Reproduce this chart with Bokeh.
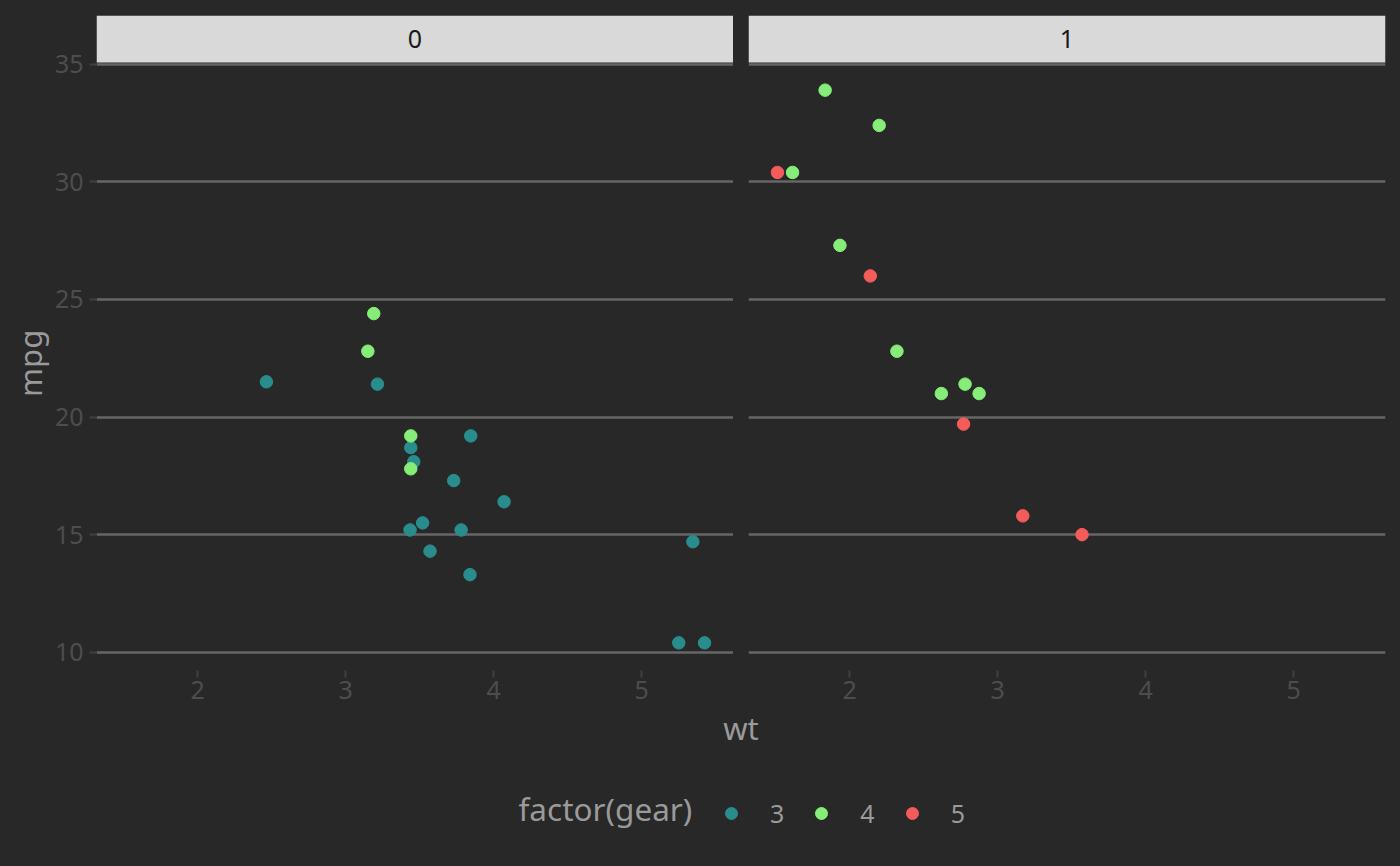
import numpy as np
from bokeh.plotting import figure
from bokeh.models import (ColumnDataSource, Range1d, FixedTicker, Label, Legend,
                          LegendItem, Grid, BoxAnnotation)
from bokeh.layouts import column, row
from bokeh.embed import file_html
from bokeh.resources import INLINE

# ---- data (mtcars) ----
wt = [2.620, 2.875, 2.320, 3.215, 3.440, 3.460, 3.570, 3.190, 3.150, 3.440, 3.440,
      4.070, 3.730, 3.780, 5.250, 5.424, 5.345, 2.200, 1.615, 1.835, 2.465, 3.520,
      3.435, 3.840, 3.845, 1.935, 2.140, 1.513, 3.170, 2.770, 3.570, 2.780]
mpg = [21.0, 21.0, 22.8, 21.4, 18.7, 18.1, 14.3, 24.4, 22.8, 19.2, 17.8,
       16.4, 17.3, 15.2, 10.4, 10.4, 14.7, 32.4, 30.4, 33.9, 21.5, 15.5,
       15.2, 13.3, 19.2, 27.3, 26.0, 30.4, 15.8, 19.7, 15.0, 21.4]
am = [1, 1, 1, 0, 0, 0, 0, 0, 0, 0, 0,
      0, 0, 0, 0, 0, 0, 1, 1, 1, 0, 0,
      0, 0, 0, 1, 1, 1, 1, 1, 1, 1]
gear = [4, 4, 4, 3, 3, 3, 3, 4, 4, 4, 4,
        3, 3, 3, 3, 3, 3, 4, 4, 4, 3, 3,
        3, 3, 3, 4, 5, 5, 5, 5, 5, 4]
gear_levels = ["3", "4", "5"]
gear_colors = ["#2a8d8d", "#86ee78", "#f45b5b"]
facet_levels = [0, 1]
facet_labels = ["0", "1"]
x_ticks = [2, 3, 4, 5]
y_ticks = [10, 15, 20, 25, 30, 35]

# ---- style ----
BG = "#282828"
FONT = "Noto Sans"
GRID = "#666666"
TICKLAB = "#4d4d4d"
TICKCOL = "#404040"
TITLECOL = "#9a9a9a"
STRIPBG = "#d9d9d9"

wt_a = np.array(wt); mpg_a = np.array(mpg); am_a = np.array(am)
gear_a = np.array([str(g) for g in gear])
color_map = dict(zip(gear_levels, gear_colors))
cols = np.array([color_map[g] for g in gear_a])

# layout (pixels)
TOTAL_W, TOTAL_H = 1400, 866
MPG_W = 50
LEFT = 46            # border left of panel 0 (after the mpg column)
PANEL_W = 637
GAP = 15
RIGHT = 15
TOP = 15
STRIP_H = 47
PANEL_H = 608
BOTTOM = 38
FIG_H = TOP + STRIP_H + PANEL_H + BOTTOM
BOT_H = TOTAL_H - FIG_H

x_lo, x_hi = wt_a.min(), wt_a.max()
y_lo, y_hi = mpg_a.min(), mpg_a.max()
dx = (x_hi - x_lo) * 0.05
dy = (y_hi - y_lo) * 0.05
x0, x1 = x_lo - dx, x_hi + dx
y0, y1 = y_lo - dy, y_hi + dy
y_strip_top = y1 + (y1 - y0) * STRIP_H / PANEL_H   # strip sits above the data area
xr = Range1d(x0, x1)
yr = Range1d(y0, y_strip_top)


def style_axis(ax, ticks, standoff):
    ax.ticker = FixedTicker(ticks=ticks)
    ax.axis_line_color = None
    ax.major_tick_out = 7
    ax.major_tick_in = 0
    ax.major_tick_line_color = TICKCOL
    ax.major_tick_line_width = 2
    ax.minor_tick_line_color = None
    ax.major_label_text_font = FONT
    ax.major_label_text_font_size = "25px"
    ax.major_label_text_color = TICKLAB
    ax.major_label_standoff = standoff


def make_panel(k):
    left = (k == 0)
    bl = LEFT if left else GAP
    br = 0 if left else RIGHT
    p = figure(width=bl + PANEL_W + br, height=FIG_H,
               x_range=xr, y_range=yr, output_backend="svg", toolbar_location=None,
               min_border_left=bl, min_border_right=br,
               min_border_top=TOP, min_border_bottom=BOTTOM,
               y_axis_location="left" if left else None)
    p.background_fill_color = BG
    p.border_fill_color = BG
    p.outline_line_color = None
    for g in p.grid:
        g.visible = False
    p.add_layout(Grid(dimension=1, ticker=FixedTicker(ticks=y_ticks),
                      grid_line_color=GRID, grid_line_width=2.4))
    style_axis(p.xaxis[0], x_ticks, 3)
    if left:
        style_axis(p.yaxis[0], y_ticks, 6)
    m = am_a == facet_levels[k]
    src = ColumnDataSource(dict(x=wt_a[m], y=mpg_a[m], c=cols[m]))
    p.scatter("x", "y", source=src, size=12.5, fill_color="c", line_color="c")
    # facet strip
    p.add_layout(BoxAnnotation(bottom=y1, fill_color=STRIPBG, fill_alpha=1.0,
                               line_color=None))
    p.add_layout(Label(x=(x0 + x1) / 2, y=(y1 + y_strip_top) / 2, text=facet_labels[k],
                       text_align="center", text_baseline="middle", text_font=FONT,
                       text_font_size="25px", text_color="#1a1a1a"))
    p.styles = {"background-color": BG}
    return p


def text_fig(w, h):
    f = figure(width=w, height=h, x_range=Range1d(0, w), y_range=Range1d(h, 0),
               output_backend="svg", toolbar_location=None,
               min_border_left=0, min_border_right=0, min_border_top=0, min_border_bottom=0,
               x_axis_location=None, y_axis_location=None)
    f.background_fill_color = BG
    f.border_fill_color = BG
    f.outline_line_color = None
    for g in f.grid:
        g.visible = False
    f.styles = {"background-color": BG}
    return f


# y axis title
mf = text_fig(MPG_W, FIG_H)
panel_mid = TOP + STRIP_H + PANEL_H / 2
mf.add_layout(Label(x=29, y=panel_mid + 10, text="mpg", angle=np.pi / 2, text_align="center",
                    text_baseline="middle", text_font=FONT, text_font_size="31px",
                    text_color=TITLECOL))

# bottom: x axis title + legend
b = text_fig(TOTAL_W, BOT_H)
b.add_layout(Label(x=MPG_W + LEFT + PANEL_W + GAP / 2, y=19.5, text="wt", text_align="center",
                   text_baseline="middle", text_font=FONT, text_font_size="31px",
                   text_color=TITLECOL))
b.add_layout(Label(x=518, y=100, text="factor(gear)", text_align="left",
                   text_baseline="middle", text_font=FONT, text_font_size="31.5px",
                   text_color=TITLECOL))
items = []
for lev, col in zip(gear_levels, gear_colors):
    r = b.scatter(x=np.array([np.nan]), y=np.array([np.nan]), size=12.5,
                  fill_color=col, line_color=col)
    items.append(LegendItem(label=lev, renderers=[r]))
leg = Legend(items=items, orientation="horizontal", location=(716, 36),
             glyph_width=30, glyph_height=30, label_standoff=24, label_width=0,
             spacing=22, padding=0, margin=0, border_line_color=None,
             background_fill_alpha=0, label_text_font=FONT, label_text_font_size="25px",
             label_text_color=TITLECOL)
b.add_layout(leg, "center")

layout = column(row(mf, make_panel(0), make_panel(1), styles={"background-color": BG}),
                b, styles={"background-color": BG})

open("out.html", "w").write(file_html(layout, INLINE))
